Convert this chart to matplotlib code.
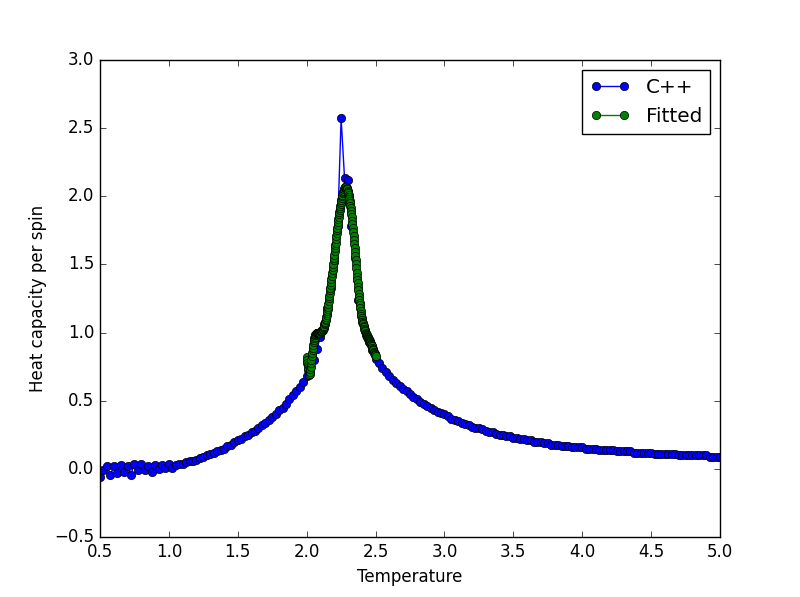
import numpy as np
import matplotlib
matplotlib.use('Agg')
import matplotlib.pyplot as plt

# Heat capacity per spin from the C++ Monte Carlo run (T = 0.5 .. 5.0, step 0.025)
cpp_t_start = 0.5
cpp_t_step = 0.025
cpp_heat = [
    -0.06, -0.01, 0.02, -0.04, 0.02, -0.03, 0.03, -0.02, 0.02, -0.04,
    0.04, -0.01, 0.04, -0.01, 0.02, -0.02, 0.03, 0.00, 0.03, 0.01,
    0.04, 0.01, 0.03, 0.04, 0.04, 0.05, 0.06, 0.06, 0.07, 0.08,
    0.09, 0.10, 0.11, 0.12, 0.13, 0.14, 0.15, 0.17, 0.18, 0.20,
    0.21, 0.22, 0.24, 0.25, 0.27, 0.28, 0.30, 0.32, 0.34, 0.36,
    0.38, 0.40, 0.43, 0.45, 0.48, 0.51, 0.54, 0.57, 0.60, 0.64,
    0.68, 0.73, 0.80, 0.88, 0.97, 1.06, 1.18, 1.33, 1.52, 1.78,
    2.57, 2.13, 2.12, 1.78, 1.55, 1.24, 1.10, 1.01, 0.93, 0.87,
    0.81, 0.78, 0.74, 0.71, 0.68, 0.65, 0.63, 0.61, 0.59, 0.57,
    0.55, 0.53, 0.51, 0.49, 0.48, 0.46, 0.45, 0.43, 0.42, 0.41,
    0.40, 0.39, 0.37, 0.36, 0.35, 0.34, 0.33, 0.32, 0.31, 0.30,
    0.30, 0.29, 0.28, 0.27, 0.27, 0.26, 0.25, 0.25, 0.24, 0.24,
    0.23, 0.23, 0.22, 0.22, 0.21, 0.21, 0.20, 0.20, 0.20, 0.19,
    0.19, 0.18, 0.18, 0.18, 0.17, 0.17, 0.17, 0.16, 0.16, 0.16,
    0.16, 0.15, 0.15, 0.15, 0.15, 0.14, 0.14, 0.14, 0.14, 0.14,
    0.13, 0.13, 0.13, 0.13, 0.13, 0.12, 0.12, 0.12, 0.12, 0.12,
    0.12, 0.11, 0.11, 0.11, 0.11, 0.11, 0.11, 0.11, 0.10, 0.10,
    0.10, 0.10, 0.10, 0.10, 0.10, 0.10, 0.10, 0.09, 0.09, 0.09,
    0.09,
]

# Fitted curve near the critical temperature (T = 2.0 .. 2.5, step 0.0025)
fit_t_start = 2.0
fit_t_step = 0.0025
fit_heat = [
    0.820, 0.800, 0.780, 0.760, 0.740, 0.725, 0.710, 0.700, 0.690, 0.695,
    0.710, 0.730, 0.750, 0.775, 0.800, 0.825, 0.850, 0.870, 0.890, 0.910,
    0.930, 0.945, 0.960, 0.970, 0.980, 0.985, 0.990, 0.990, 0.990, 0.995,
    1.000, 1.000, 1.000, 1.000, 1.000, 1.000, 1.000, 1.000, 1.000, 1.000,
    1.000, 1.005, 1.010, 1.010, 1.010, 1.015, 1.020, 1.025, 1.030, 1.035,
    1.040, 1.050, 1.060, 1.070, 1.080, 1.090, 1.100, 1.115, 1.130, 1.145,
    1.160, 1.175, 1.190, 1.210, 1.230, 1.250, 1.270, 1.290, 1.310, 1.330,
    1.350, 1.370, 1.390, 1.415, 1.440, 1.460, 1.480, 1.505, 1.530, 1.550,
    1.570, 1.595, 1.620, 1.640, 1.660, 1.685, 1.710, 1.730, 1.750, 1.770,
    1.790, 1.810, 1.830, 1.850, 1.870, 1.885, 1.900, 1.915, 1.930, 1.945,
    1.960, 1.975, 1.990, 2.000, 2.010, 2.020, 2.030, 2.040, 2.050, 2.055,
    2.060, 2.065, 2.070, 2.070, 2.070, 2.065, 2.060, 2.055, 2.050, 2.040,
    2.030, 2.020, 2.010, 1.995, 1.980, 1.965, 1.950, 1.930, 1.910, 1.890,
    1.870, 1.845, 1.820, 1.795, 1.770, 1.740, 1.710, 1.680, 1.650, 1.620,
    1.590, 1.560, 1.530, 1.500, 1.470, 1.440, 1.410, 1.385, 1.360, 1.335,
    1.310, 1.285, 1.260, 1.240, 1.220, 1.200, 1.180, 1.160, 1.140, 1.125,
    1.110, 1.095, 1.080, 1.070, 1.060, 1.050, 1.040, 1.030, 1.020, 1.015,
    1.010, 1.000, 0.990, 0.985, 0.980, 0.975, 0.970, 0.965, 0.960, 0.955,
    0.950, 0.945, 0.940, 0.935, 0.930, 0.925, 0.920, 0.915, 0.910, 0.905,
    0.900, 0.890, 0.880, 0.875, 0.870, 0.860, 0.850, 0.845, 0.840, 0.835,
    0.830,
]

cpp_temp = cpp_t_start + cpp_t_step * np.arange(len(cpp_heat))
fit_temp = fit_t_start + fit_t_step * np.arange(len(fit_heat))

plt.style.use('classic')
fig = plt.figure(figsize=(8, 5.97), dpi=100, facecolor='white')
ax = fig.add_subplot(111)

ax.plot(cpp_temp, cpp_heat, 'bo-', label='C++')
ax.plot(fit_temp, fit_heat, 'go-', label='Fitted')

ax.set_xlim(0.5, 5.0)
ax.set_ylim(-0.5, 3.0)
ax.set_xlabel('Temperature')
ax.set_ylabel('Heat capacity per spin')
ax.legend(loc='upper right')

fig.savefig('out.png', dpi=100, facecolor='white')
